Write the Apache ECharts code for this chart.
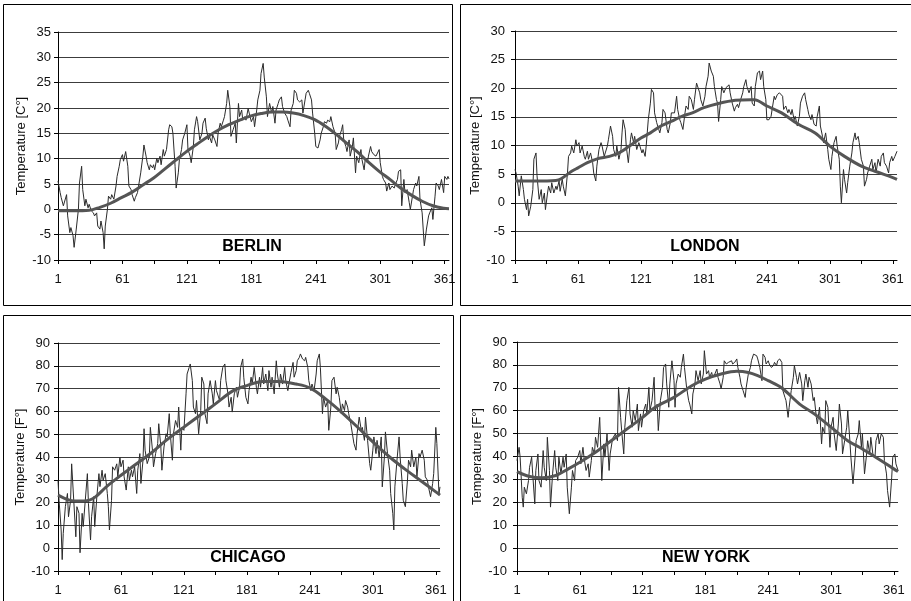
<!DOCTYPE html>
<html>
<head>
<meta charset="utf-8">
<script src="https://cdn.jsdelivr.net/npm/echarts@6/dist/echarts.min.js"></script>
<style>html,body{margin:0;padding:0;background:#fff;}#c{width:911px;height:601px;}</style>
</head>
<body>
<div id="c"></div>
<script>
// ---- tick labels / categories (day of year) ----
var dayCategories = [];
for (var i = 1; i <= 365; i++) dayCategories.push(String(i));

// ---- BERLIN (°C) ----
var berlinDays = [1,3,4,6,9,10,12,13,15,16,18,20,21,23,24,26,27,29,30,32,34,35,37,38,40,41,43,44,45,47,48,50,51,53,55,56,58,59,61,62,64,66,67,69,70,72,73,75,76,78,80,81,83,84,86,87,89,90,91,93,94,96,97,99,100,102,104,105,107,108,110,111,113,114,116,117,119,121,122,124,125,127,128,130,131,133,135,136,138,139,141,142,144,145,147,149,150,152,153,155,156,158,159,161,162,164,166,167,169,170,172,173,175,176,178,179,181,183,184,186,187,189,190,192,193,195,196,198,200,201,203,204,206,207,209,210,212,214,215,217,218,220,221,223,224,226,228,229,231,232,234,235,237,238,240,241,243,245,246,248,249,251,252,254,255,257,259,260,262,263,265,266,267,269,270,272,273,275,276,278,279,281,283,284,286,287,289,290,292,293,295,297,298,300,301,303,304,306,307,309,310,312,314,315,317,318,320,321,323,324,326,328,329,331,332,334,335,337,338,340,342,343,344,346,347,349,350,352,353,355,356,358,360,361,363,364,365];
var berlinTemps = [5.6,3.3,2.3,0.7,2.9,-1.3,-4.6,-3.6,-5.2,-7.5,-3.9,0,5.2,8.5,3.9,0.7,2,0.3,1,-0.3,-0.7,-1.3,-0.7,-3.3,-3.9,-2.3,-4.6,-7.8,-3.3,0,2.6,2,2.9,2,4.6,6.5,8.5,9.8,10.8,9.5,11.4,8.5,4.6,3.9,2.9,1.6,2.3,3.3,4.6,7.2,10.5,12.7,10.5,9.2,7.8,8.8,8.2,8.8,7.8,10.1,9.2,10.5,8.8,11.8,10.5,11.8,15.7,16.7,16.3,15,8.5,4.2,7.2,9.8,11.8,13.7,15,16.7,11.8,10.5,9.2,12.4,15.7,18.3,17.3,13.7,15,17,18,16,13.7,14.4,13.1,14.7,13.7,12.4,15,17,16.3,17.6,18.3,20.9,23.5,20.3,14.4,15.7,17,13.1,20.9,18.3,19.6,17.6,18.3,17.6,19.9,19,17.3,18.3,16.3,19.6,21.6,23.5,26.8,28.8,26.1,22.2,18.3,20.9,19,20.3,17,19.6,20.9,21.6,22.2,20.3,19,18.3,17.6,16.3,19.6,20.9,23.5,22.9,21.6,21.2,21.6,19,21.6,22.9,23.5,22.9,21.6,19,15,12.4,12.1,13.7,15,16.3,17.3,17,17.6,17.3,18.3,16.3,15,11.8,13.1,14.4,15.7,16.7,13.7,12.4,11.4,13.7,10.5,12.4,14.1,7.2,10.5,9.2,11.8,9.8,7.8,9.8,9.2,10.5,12.4,11.4,10.8,10.5,10.8,11.8,9.2,6.5,5.9,5.2,3.6,5.2,3.9,4.6,4.2,4.9,5.9,7.5,7.8,0.7,5.9,3.3,3.9,1.3,0,2.6,3.9,5.2,4.6,6.5,2,-0.7,-7.2,-7.5,-3.9,-1.3,-0.7,0.3,-2,2.6,5.2,4.6,3.9,5.9,3.3,6.5,5.9,6.5,6];
var berlinTrendDays = [1,15,30,40,50,60,70,80,90,100,110,120,130,140,150,160,170,180,190,200,210,220,230,240,250,260,270,280,290,300,310,320,330,340,350,360,365];
var berlinTrend = [-0.3,-0.3,-0.2,0.4,1.2,2.3,3.4,4.8,6.2,7.9,9.6,11.3,12.8,14.3,15.6,16.7,17.6,18.4,18.9,19.2,19.2,19,18.5,17.7,16.4,14.8,13,11.3,9.3,7.5,5.9,4.2,2.8,1.6,0.7,0.2,0.1];

// ---- LONDON (°C) ----
var londonDays = [1,2,4,5,7,9,10,12,13,14,16,18,19,21,22,24,26,27,29,30,32,33,35,36,38,40,41,43,44,46,47,49,51,52,54,55,57,59,60,62,63,65,67,68,70,71,73,75,76,78,79,81,83,84,86,87,89,90,92,94,95,97,98,100,102,103,104,106,107,109,111,112,114,115,117,119,120,122,123,125,126,128,130,131,133,134,136,138,139,141,142,144,146,147,149,150,153,155,156,158,159,161,163,164,166,167,169,171,172,174,175,177,178,180,182,183,185,186,188,190,191,193,194,195,197,198,200,202,203,205,206,208,210,211,213,214,216,218,219,221,222,224,226,227,229,230,232,234,235,237,238,240,241,243,245,246,248,249,251,253,254,256,257,259,261,262,264,265,267,268,270,272,273,275,277,278,280,281,283,284,286,288,289,291,292,294,295,297,299,300,302,303,305,307,308,310,311,312,314,315,317,318,320,322,323,325,326,328,329,331,333,334,336,337,339,341,342,344,345,347,349,350,352,353,355,357,358,360,361,363,365];
var londonTemps = [5.8,5.2,2.9,1.2,4.7,2.3,0.6,-1.2,0.6,-2.3,-0.6,2.3,7.6,8.7,4.7,0.6,2.3,0,1.7,-1.2,1.7,2.9,1.7,3.5,1.7,2.9,2.3,3.8,2,4.1,2.9,1.2,5.2,8.1,8.7,9.9,8.7,11,9.9,10.5,8.7,9.9,8.1,7.6,9,7.6,8.7,7,5.2,3.8,6.4,9.3,10.5,9.9,8.1,8.7,9.9,11,13.4,11.6,9.3,8.1,9.9,7.6,9.3,12.2,14.5,12.8,9.9,7,11,12.2,10.5,11.6,9.3,10.5,9.9,8.7,9.3,8.1,9.9,14.5,17.4,19.8,19.2,15.7,14,12.8,12.2,14,16.3,15.7,12.8,12.2,14,15.7,15.7,18.6,16.3,14.5,14,12.8,15.7,16.9,16.3,18.6,18,16.3,18,20.9,21.2,19.2,18,16.9,18.6,20.3,22.1,24.4,23,22.1,20.3,18,17.4,14.2,18,20.3,19.2,20.1,19.8,20.6,19.2,17.4,16,16.6,17.2,16.6,18,19.2,20.3,21.5,20.3,19.2,20.3,17.4,16.9,20.3,22.7,23,21.5,23,20.3,18,14.5,14.5,15.1,16.3,18.6,18,18.9,19.2,19.5,18.6,16.3,16.9,15.7,16.3,15.4,16.3,14.5,15.1,13.4,15.1,17.4,18.6,19.2,18,16.3,15.4,14.5,15.4,13.7,13.4,15.1,16.9,13.4,11.6,10.5,12.2,9.3,7.6,5.8,8.1,10.5,11.6,9.9,7.6,2.9,0,5.8,4.1,1.7,3.5,6.4,8.7,10.5,12.2,11,11.6,10.5,7.6,6.4,2.9,4.1,5.2,6.4,7.6,5.8,7,5.2,7.6,6.4,8.1,8.7,7,6.4,5.2,7,8.1,7.3,8.1,9];
var londonTrendDays = [1,20,40,45,55,61,70,80,91,100,110,121,130,140,151,160,170,181,194,211,226,229,241,255,271,287,301,315,331,344,361,365];
var londonTrend = [3.8,3.8,3.9,4.2,5.5,6.1,7,7.7,8.1,8.7,9.9,11.3,12.2,13.4,14.3,15.1,15.7,16.6,17.3,17.9,18,18,16.9,15.7,13.7,12.2,9.9,8.1,6.4,5.5,4.4,4.1];

// ---- CHICAGO (°F) ----
var chicagoDays = [1,2,4,5,6,8,10,11,13,14,16,18,19,21,22,24,25,27,29,30,32,33,35,36,38,40,41,43,44,46,48,49,50,52,53,55,57,58,60,61,63,64,66,68,69,71,72,74,76,77,79,80,82,83,84,86,88,89,91,92,94,96,97,99,100,102,104,105,107,108,110,111,113,115,116,118,119,121,123,124,126,127,129,130,132,133,135,137,138,140,141,143,144,146,148,149,151,152,155,156,158,160,161,163,164,166,167,169,171,172,174,175,177,178,180,182,183,185,186,188,190,191,193,194,196,197,199,201,202,204,205,207,209,210,212,213,215,217,218,220,221,223,225,226,228,229,231,232,234,236,237,239,240,242,243,245,247,248,250,251,253,254,256,258,259,261,262,264,266,267,269,271,272,274,275,277,278,280,282,283,285,286,288,290,291,293,294,296,298,299,301,302,304,305,307,309,310,312,313,315,317,318,320,321,322,324,326,327,329,330,332,334,335,337,338,340,342,343,345,346,348,350,351,353,354,356,358,359,361,362,364,365];
var chicagoTemps = [29.8,21,8,-5,6.5,18.2,24,13.8,21,37,21,5,18.2,15.3,-2,15.3,9.5,21,32.7,19.7,3.6,13.8,22.6,9.5,22.6,32.7,27,34.2,29.8,32.7,24,18.2,8,21,35.7,34.2,37,31.3,40,35.7,38.6,31.3,25.5,35.7,29.8,34.2,31.3,35.7,24,34.2,41.5,28.4,38.6,52.4,43,37.1,40,53,43,35.7,41.5,45.9,54.6,44.4,34.2,44.4,50.2,48.8,59,50.2,38.6,50.2,56,53,61.9,43,53,51.7,67.7,76.4,79.3,80.8,73.5,61.9,59,64.8,50.2,60.4,75,72,59,54.6,67.7,73.5,67.7,63.3,73.5,69.1,64.8,73.5,79.3,80.8,73.5,67.7,61.9,66.2,59.7,67.7,70.6,66.2,70.6,79.3,83,75,66.2,63.3,69.1,75,72,79.3,70.6,67.7,75,70.6,79.3,72,76.4,69.1,77.9,70.6,75,67.7,82.2,76.4,70.6,76.4,72,79.3,73.5,69.1,72,77.1,81.5,75,77.9,82.2,83.7,85.2,83,82.2,83.7,79.3,73.5,69.1,72,69.1,76.4,82.2,85.2,79.3,59,66.2,61.9,64.8,51.7,61.9,73.5,75,67.7,70.6,66.2,59,63.3,60.4,64.8,61.9,59,54.6,48.8,45.9,43,50.2,57.5,51.7,53,47.3,57.5,47.3,37.1,34.2,43,48.8,41.5,47.3,40,48.8,26.9,40,51,41.5,34.2,24,15.3,8,26.9,38.6,48.8,40,28.4,21,18.2,29.8,38.6,35.7,43,35.7,40,31.3,41.5,40,43,38.6,31.3,29.8,26.9,22.6,28.4,32.7,53,45.9,24,26.9];
var chicagoTrendDays = [1,12,22,31,37,47,61,72,91,104,121,136,151,168,181,196,211,228,241,256,271,288,301,317,331,346,361,365];
var chicagoTrend = [23.3,21.1,20.7,21.1,22.6,26.9,32,35.7,42.2,47.3,53.1,58.2,63.3,69.1,71.3,73.1,73.1,72,70.3,65.5,59.7,52.4,46.6,40,34.9,29.8,24.7,23.3];

// ---- NEW YORK (°F) ----
var newYorkDays = [1,3,4,6,7,8,10,12,13,15,16,18,19,21,22,24,26,27,29,30,32,33,35,37,38,40,41,43,45,46,48,49,51,53,54,56,57,59,61,62,64,65,67,69,70,72,73,75,76,78,80,81,82,84,85,87,89,90,92,93,95,97,98,100,101,103,104,106,108,109,111,112,114,116,117,119,120,122,124,125,127,128,130,132,133,135,136,138,140,141,143,144,146,147,149,151,152,153,155,157,158,160,161,163,165,166,168,169,171,172,174,176,177,179,180,182,184,185,187,188,190,192,193,195,196,198,199,201,203,204,206,207,209,211,212,214,215,217,219,220,222,224,225,227,228,230,231,233,235,236,238,239,241,242,244,246,247,249,250,252,254,255,257,258,260,261,263,265,266,268,269,271,273,274,276,277,279,280,282,284,285,287,288,290,292,293,295,296,298,300,301,303,304,306,308,309,311,312,314,316,317,319,320,322,324,325,327,328,330,331,333,335,336,338,339,341,343,344,346,347,349,351,352,354,355,357,359,360,362,363,365];
var newYorkTemps = [38.2,44,39.7,22.2,17.9,26.6,23.7,29.5,35.3,39.7,32.4,19.3,33.9,41.1,29.5,26.6,42.6,35.3,29.5,48.4,33.9,17.9,32.4,42.6,35.3,29.5,39.7,32.4,39.7,35.3,41.1,26.6,15,26.6,33.9,29.5,38.2,39.7,42.6,36.8,44,39.7,33.9,36.8,31,38.2,44,41.1,48.4,44,57.1,44,29.5,45.5,39.7,49.9,33.9,41.1,46.9,48.4,49.9,46.9,70.2,57.1,51.3,41.1,52.8,64.4,70.2,58.6,52.8,60,55.7,62.9,51.3,58.6,52.8,60,62.9,58.6,70.2,60,64.4,74.6,60,62.9,51.3,64.4,70.2,78.9,80.4,71.7,61.5,71.7,81.8,73.1,61.5,71.7,76,74.6,78.9,84.7,78.9,70.2,64.4,62.9,58.6,67.3,71.7,77.5,73.1,77.5,71.7,76,86.2,76,77.5,74.6,76.7,74.6,76,78.2,74.6,71.7,69.5,74.6,81.8,80.4,81.1,80.4,81.8,80.4,81.1,82.6,78.9,74.6,71.7,68.8,65.8,70.2,76,78.9,81.8,84.7,85.5,84,82.6,78.9,73.1,84.7,83.3,80.4,81.8,80.4,78.9,79.7,81.1,79.7,81.8,82.6,81.1,68.8,65.8,64.4,57.1,61.5,68.8,74.6,79.7,74.6,71.7,76.7,71.7,64.4,73.1,76,70.2,74.6,71.7,64.4,65.8,57.1,54.2,61.5,45.5,52.8,49.9,64.4,61.5,44,52.8,57.1,49.9,42.6,54.2,62.9,54.2,41.1,46.9,52.8,60,46.9,39.7,28.1,39.7,46.9,49.9,55.7,44,49.9,32.4,41.1,46.9,41.1,48.4,41.1,39.7,46.9,49.9,45.5,49.9,48.4,38.2,32.4,25.1,17.9,31,39.7,41.1,36.8,33.9];
var newYorkTrendDays = [1,12,25,38,50,61,76,91,104,121,133,151,168,181,196,211,222,231,241,254,271,285,301,317,331,346,361,365];
var newYorkTrend = [33.4,31.4,30.7,31.7,34.6,37.5,41.9,46.9,51.3,57.1,61.5,65.8,70.9,73.8,76,77.2,76.7,75.3,73.1,69.9,62.9,58.6,52.8,46.9,43.3,39,34.6,33.4];

// ---- panel definitions ----
var panels = [
  {name:'BERLIN',   unit:'Temperature [C°]', days:berlinDays,  temps:berlinTemps,  tDays:berlinTrendDays,  trend:berlinTrend,  min:-10,max:35,step:5,
   grid:{left:58,top:32,width:391,height:228}, labelMargin:7, nameGap:30, label:[252,247]},
  {name:'LONDON',   unit:'Temperature [C°]', days:londonDays,  temps:londonTemps,  tDays:londonTrendDays,  trend:londonTrend,  min:-10,max:30,step:5,
   grid:{left:515,top:31,width:382,height:229}, labelMargin:10, nameGap:31, label:[705,247]},
  {name:'CHICAGO',  unit:'Temperature [F°]', days:chicagoDays, temps:chicagoTemps, tDays:chicagoTrendDays, trend:chicagoTrend, min:-10,max:90,step:10,
   grid:{left:58,top:343,width:382,height:228}, labelMargin:8, nameGap:29, label:[248,558]},
  {name:'NEW YORK', unit:'Temperature [F°]', days:newYorkDays, temps:newYorkTemps, tDays:newYorkTrendDays, trend:newYorkTrend, min:-10,max:90,step:10,
   grid:{left:517,top:342,width:381,height:229}, labelMargin:10, nameGap:32, label:[706,558]}
];

var FONT = 'Liberation Sans, Arial, sans-serif';
function pairs(d, v){ var out=[]; for(var k=0;k<d.length;k++) out.push([d[k]-1, v[k]]); return out; }

var grids=[], xAxes=[], yAxes=[], series=[], graphics=[];
panels.forEach(function(p, i){
  grids.push({left:p.grid.left, top:p.grid.top, width:p.grid.width, height:p.grid.height, containLabel:false});
  xAxes.push({
    type:'category', gridIndex:i, data:dayCategories, boundaryGap:false,
    axisLine:{show:true, onZero:false, lineStyle:{color:'#000', width:1}},
    axisTick:{show:true, interval:29, length:4, lineStyle:{color:'#000'}},
    axisLabel:{interval:59, color:'#111', fontSize:13, fontFamily:FONT, margin:13},
    splitLine:{show:false}
  });
  yAxes.push({
    type:'value', gridIndex:i, min:p.min, max:p.max, interval:p.step,
    name:p.unit, nameLocation:'middle', nameGap:p.nameGap,
    nameTextStyle:{color:'#111', fontSize:13, fontFamily:FONT},
    axisLine:{show:true, lineStyle:{color:'#000', width:1}},
    axisTick:{show:true, length:4, lineStyle:{color:'#000'}},
    axisLabel:{color:'#111', fontSize:13, fontFamily:FONT, margin:p.labelMargin},
    splitLine:{show:true, lineStyle:{color:'#3c3c3c', width:1}}
  });
  series.push({
    type:'line', xAxisIndex:i, yAxisIndex:i, data:pairs(p.days, p.temps),
    showSymbol:false, symbol:'none', smooth:false, animation:false,
    lineStyle:{color:'#2b2b2b', width:1}, z:3
  });
  series.push({
    type:'line', xAxisIndex:i, yAxisIndex:i, data:pairs(p.tDays, p.trend),
    showSymbol:false, symbol:'none', smooth:0.35, animation:false,
    lineStyle:{color:'#555555', width:3}, z:4
  });
  graphics.push({
    type:'text', x:p.label[0], y:p.label[1], z:10,
    style:{text:p.name, font:'bold 16px ' + FONT, fill:'#000', textAlign:'center', textVerticalAlign:'middle'}
  });
});

// panel frames
graphics.push({type:'rect', shape:{x:3.5, y:4.5, width:449, height:301}, style:{fill:'none', stroke:'#000', lineWidth:1}, z:1});
graphics.push({type:'rect', shape:{x:460.5, y:4.5, width:470, height:301}, style:{fill:'none', stroke:'#000', lineWidth:1}, z:1});
graphics.push({type:'rect', shape:{x:3.5, y:315.5, width:450, height:300}, style:{fill:'none', stroke:'#000', lineWidth:1}, z:1});
graphics.push({type:'rect', shape:{x:460.5, y:315.5, width:470, height:300}, style:{fill:'none', stroke:'#000', lineWidth:1}, z:1});

var chart = echarts.init(document.getElementById('c'), null, {renderer:'canvas'});
chart.setOption({
  backgroundColor:'#fff',
  animation:false,
  grid:grids, xAxis:xAxes, yAxis:yAxes, series:series,
  graphic:{elements:graphics}
});
</script>
</body>
</html>
